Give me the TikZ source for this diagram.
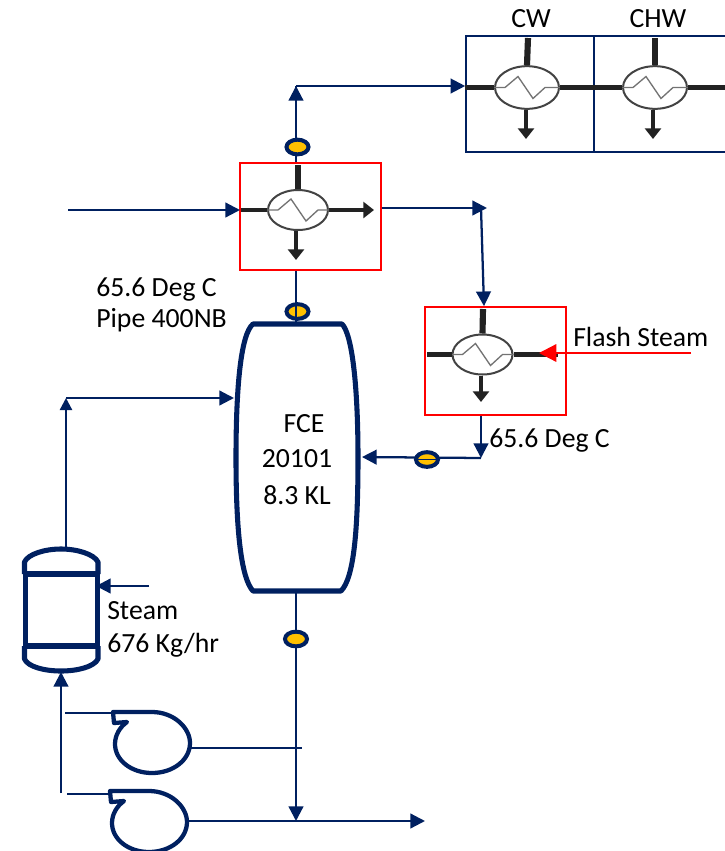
\documentclass[tikz,border=0pt]{standalone}
\usepackage{fontspec}
\setmainfont{Carlito}
\usetikzlibrary{arrows.meta,shapes.geometric}
\definecolor{navy}{HTML}{002060}
\definecolor{hxdark}{HTML}{222222}
\definecolor{valveyellow}{HTML}{FFC000}
\tikzset{
  x=0.75pt,y=-0.75pt,
  flow/.style={draw=navy,line width=1.7pt,-{Triangle[length=11pt,width=11pt]}},
  pipe/.style={draw=navy,line width=1.7pt},
  thinpipe/.style={draw=navy,line width=1.2pt},
  equip/.style={draw=navy,line width=3.8pt,line join=round},
  redbox/.style={draw=red,line width=1.3pt,inner sep=0pt},
  bluebox/.style={draw=navy,line width=1.2pt,inner sep=0pt},
  hxbody/.style={ellipse,draw=hxdark!85,fill=white,line width=1.5pt,minimum width=45pt,minimum height=30pt,inner sep=0pt},
  hxwide/.style={hxbody,minimum width=48pt,minimum height=32pt},
  stub/.style={draw=hxdark,line width=3.2pt},
  stubthick/.style={draw=hxdark,line width=4.6pt},
  stubarrow/.style={draw=hxdark,line width=3.2pt,-{Triangle[length=8pt,width=12pt]}},
  zig/.style={draw=gray!90!black,line width=1pt},
  valve/.style={ellipse,draw=navy,fill=valveyellow,line width=3pt,minimum width=16.5pt,minimum height=11pt,inner sep=0pt},
  lbl/.style={inner sep=0pt,font=\fontsize{20.8pt}{25pt}\selectfont},
}
\newcommand{\hxzig}[1]{%
  \draw[zig] (#1.west) -- ++(11,0) -- ++(13,-11) -- ++(15,22) -- ++(12,-11) -- (#1.east);}
\begin{document}
\begin{tikzpicture}
\useasboundingbox (0,0) rectangle (725,851);
% boxes
\node[redbox,minimum width=105.75pt,minimum height=80.25pt] (hA) at (310.5,216.5) {};
\node[redbox,minimum width=105.75pt,minimum height=81pt] (hF) at (495.5,361) {};
\node[bluebox,minimum width=96pt,minimum height=87pt] (bCW) at (530,94) {};
\coordinate (bCHWtl) at (594,36);
\draw[bluebox] (725,36) -- (bCHWtl) -- (594,152) -- (725,152);
% exchangers
\node[hxbody] (eA) at (298,210) {};
\node[hxbody] (eF) at (482.5,354.5) {};
\node[hxwide] (eCW) at (527,87.5) {};
\node[hxwide] (eCH) at (655,87.5) {};
\foreach \n in {eA,eF,eCW,eCH}{\hxzig{\n}}
% stubs
\coordinate (sAt) at (298,165); \coordinate (sAl) at (241,210); \coordinate (sAr) at (374,210); \coordinate (sAb) at (296,260);
\draw[stubthick] (sAt) -- (eA.north);
\draw[stub] (sAl) -- (eA.west);
\draw[stubarrow] (eA.east) -- (sAr);
\draw[stubarrow] (eA.south -| sAb) -- (sAb);
\coordinate (sFt) at (483,309); \coordinate (sFl) at (427,354.5); \coordinate (sFr) at (558,354.5); \coordinate (sFb) at (481,402);
\draw[stubthick] (sFt) -- (eF.north);
\draw[stub] (sFl) -- (eF.west);
\draw[stub] (eF.east) -- (sFr);
\draw[stubarrow] (eF.south -| sFb) -- (sFb);
\coordinate (sCt) at (528,38); \coordinate (sCb) at (526,139);
\draw[stubthick] (sCt) -- (eCW.north);
\draw[stub] (bCW.west |- eCW.west) -- (eCW.west);
\draw[stub] (eCW.east) -- (eCH.west);
\draw[stubarrow] (eCW.south -| sCb) -- (sCb);
\coordinate (sHt) at (655,38); \coordinate (sHb) at (653,139); \coordinate (sHr) at (725,87.5);
\draw[stubthick] (sHt) -- (eCH.north);
\draw[stub] (eCH.east) -- (sHr);
\draw[stubarrow] (eCH.south -| sHb) -- (sHb);
% vessel FCE
\draw[equip] (253,324) -- (342,324)
  .. controls (352,334) and (358,385) .. (358,458)
  .. controls (358,530) and (354,578) .. (341,591) -- (253,591)
  .. controls (241,578) and (236,530) .. (236,458)
  .. controls (236,385) and (241,334) .. (253,324) -- cycle;
\coordinate (fT) at (296,324); \coordinate (fB) at (296,592); \coordinate (fL) at (234,399); \coordinate (fR) at (362,457);
% small vessel
\draw[equip] (24.5,574) -- (24.5,562) .. controls (28,554) and (45,549) .. (61,549) .. controls (77,549) and (94,554) .. (98,562) -- (98,574);
\draw[equip] (24.5,574) -- (98,574);
\draw[equip] (25.5,574) -- (25.5,646);
\draw[equip] (97.5,574) -- (97.5,646);
\draw[equip] (24.5,646) -- (98,646);
\draw[equip] (24.5,646) -- (24.5,659) .. controls (28,667) and (45,671) .. (61,671) .. controls (77,671) and (94,667) .. (98,659) -- (98,646);
\coordinate (vT) at (66,549); \coordinate (vB) at (61,672); \coordinate (vR) at (96,586);
% pumps
\draw[equip,line width=3.2pt] (113,712) -- (152,712) .. controls (174,712) and (190,728) .. (190,743)
  .. controls (190,760) and (173,773) .. (152,773) .. controls (131,773) and (115,760) .. (115,744)
  .. controls (115,735) and (120,727) .. (127,722) -- (114,723) -- cycle;
\draw[equip,line width=3.2pt] (110,791) -- (149,791) .. controls (171,791) and (187,807) .. (187,822)
  .. controls (187,839) and (170,852) .. (149,852) .. controls (128,852) and (112,839) .. (112,823)
  .. controls (112,814) and (117,806) .. (124,801) -- (111,802) -- cycle;
\coordinate (p1s) at (113,713); \coordinate (p1d) at (190,748); \coordinate (p2s) at (110,794); \coordinate (p2d) at (187,821);
% piping
\coordinate (feedIn) at (68,210);
\coordinate (feedEnd) at (240,210);
\coordinate (upTop) at (296,86);
\coordinate (outA) at (382,208);
\coordinate (turn) at (487,208);
\coordinate (turnB) at (481,208);
\coordinate (dropB) at (481,458);
\coordinate (tailBottom) at (296,821);
\coordinate (out) at (425,821);
\coordinate (join1) at (302,748);
\coordinate (s1) at (65,713);
\coordinate (s2) at (67,794);
\coordinate (suc) at (61,793);
\coordinate (st) at (149,586);
\coordinate (flash) at (691,353);
\coordinate (flashEnd) at (539,353);
\coordinate (vup) at (66,398);
\draw[flow] (feedIn) -- (feedEnd);
\draw[pipe] (hA.north -| upTop) -- (upTop);
\draw[flow] (296,115) -- (upTop);
\draw[flow] (upTop) -- (bCW.west |- upTop);
\draw[flow] (outA) -- (turn);
\draw[flow] (turnB) -- (hF.north -| 484,0);
\draw[flow] (hF.south -| dropB) -- (dropB);
\draw[flow] (dropB) -- (fR);
\draw[flow] (fB) -- (tailBottom);
\draw[flow] (tailBottom) -- (out);
\draw[thinpipe] (p1d) -- (join1);
\draw[thinpipe] (p2d) -- (tailBottom);
\draw[thinpipe] (s1) -- (p1s);
\draw[thinpipe] (s2) -- (p2s);
\draw[flow] (suc) -- (vB);
\draw[flow,-{Triangle[length=9pt,width=9pt]}] (vT) -- (vup);
\draw[flow] (vup) -- (fL |- vup);
\draw[flow] (st) -- (vR);
\draw[draw=red,line width=1.7pt,-{Triangle[length=13pt,width=13pt]}] (flash) -- (flashEnd);
% valves
\node[valve] (v1) at (297.5,147) {};
\node[valve] (v2) at (297.5,311.5) {};
\node[valve] (v3) at (427,459.5) {};
\node[valve] (v4) at (296,639) {};
\draw[pipe] (fT) -- (hA.south -| fT);
\draw[draw=navy,line width=0.7pt] (v3.west) -- (v3.east);
% labels
\node[lbl,anchor=center] (tCW) at (531,19) {CW};
\node[lbl,anchor=center] (tCH) at (658,19) {CHW};
\node[lbl,anchor=west] (t1) at (96,290) {65.6 Deg C};
\node[lbl,anchor=west] (t2) at (96,320) {Pipe 400NB};
\node[lbl,anchor=center] (t3) at (304,424) {FCE};
\node[lbl,anchor=center] (t4) at (297,459) {20101};
\node[lbl,anchor=center] (t5) at (297,495) {8.3 KL};
\node[lbl,anchor=west] (t6) at (573,337) {Flash Steam};
\node[lbl,anchor=west] (t7) at (489,441) {65.6 Deg C};
\node[lbl,anchor=west] (t8) at (107,611) {Steam};
\node[lbl,anchor=west] (t9) at (107,645) {676 Kg/hr};
\end{tikzpicture}
\end{document}
